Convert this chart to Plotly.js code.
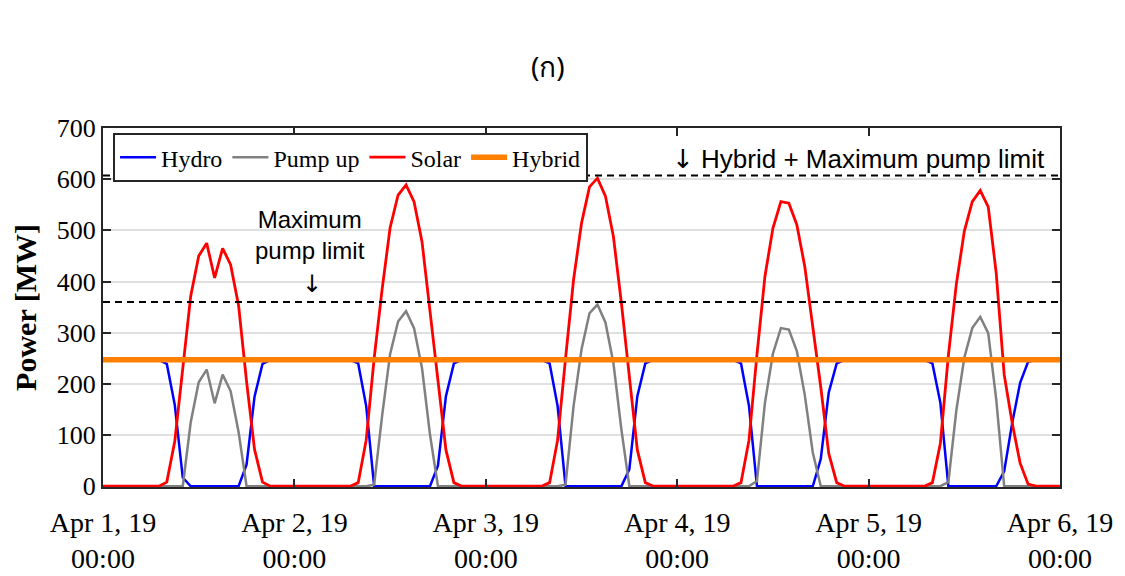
<!DOCTYPE html>
<html>
<head>
<meta charset="utf-8">
<script src="https://cdn.plot.ly/plotly-3.0.1.min.js"></script>
<style>html,body{margin:0;padding:0;background:#fff;}#chart{width:1125px;height:576px;}</style>
</head>
<body>
<div id="chart"></div>
<script>
// ---- data (hourly, Apr 1 2019 00:00 .. Apr 6 2019 00:00) ----
const startTime = '2019-04-01T00:00:00';
const dayTicks = ['2019-04-01 00:00','2019-04-02 00:00','2019-04-03 00:00','2019-04-04 00:00','2019-04-05 00:00','2019-04-06 00:00'];
const dayLabels = ['Apr 1, 19','Apr 2, 19','Apr 3, 19','Apr 4, 19','Apr 5, 19','Apr 6, 19'];
const timeLabels = ['00:00','00:00','00:00','00:00','00:00','00:00'];

const solar = [
  0,0,0,0,0,0,0,0, 8,88,230,372,450,475,407,465,433,353,205,72,8,0,0,0,
  0,0,0,0,0,0,0,0, 7,90,250,385,505,569,589,556,478,348,207,71,7,0,0,0,
  0,0,0,0,0,0,0,0, 7,90,250,403,514,585,602,567,488,358,214,71,7,0,0,0,
  0,0,0,0,0,0,0,0, 7,90,257,410,504,556,553,511,429,313,194,64,7,0,0,0,
  0,0,0,0,0,0,0,0, 7,84,255,395,498,556,578,546,417,218,124,45,4,0,0,0,
  0
];
const pumpUp = [
  0,0,0,0,0,0,0,0, 0,0,0,125,203,228,162,218,186,106,0,0,0,0,0,0,
  0,0,0,0,0,0,0,0, 0,0,3,138,258,322,342,309,231,101,0,0,0,0,0,0,
  0,0,0,0,0,0,0,0, 0,0,3,156,267,338,355,320,241,111,0,0,0,0,0,0,
  0,0,0,0,0,0,0,0, 0,0,10,163,259,309,306,264,178,66,0,0,0,0,0,0,
  0,0,0,0,0,0,0,0, 0,0,8,148,251,309,331,299,170,0,0,0,0,0,0,0,
  0
];
const hydro = [
  247,247,247,247,247,247,247,247, 239,159,17,0,0,0,0,0,0,0,42,175,239,247,247,247,
  247,247,247,247,247,247,247,247, 240,157,0,0,0,0,0,0,0,0,40,176,240,247,247,247,
  247,247,247,247,247,247,247,247, 240,157,0,0,0,0,0,0,0,0,33,176,240,247,247,247,
  247,247,247,247,247,247,247,247, 240,157,0,0,0,0,0,0,0,0,53,183,240,247,247,247,
  247,247,247,247,247,247,247,247, 240,163,0,0,0,0,0,0,0,29,123,202,243,247,247,247,
  247
];
const hybridTimes = ['2019-04-01 00:00','2019-04-06 00:00'];
const hybrid = [247, 247];
const pumpLimit = 360;
const hybridPlusPumpLimit = 607;

// hourly timestamps for the series
const times = [];
{
  const t0 = new Date(startTime + 'Z').getTime();
  for (let i = 0; i < solar.length; i++) {
    const d = new Date(t0 + i * 3600000);
    times.push(d.toISOString().slice(0,16).replace('T',' '));
  }
}

const serif = 'Liberation Serif, Times New Roman, serif';
const sans = 'Liberation Sans, Arial, sans-serif';
const arrowFont = 'DejaVu Sans, sans-serif';

const traces = [
  {x: times, y: hydro, name: 'Hydro', mode: 'lines', line: {color: '#0000ff', width: 2.5}},
  {x: times, y: pumpUp, name: 'Pump up', mode: 'lines', line: {color: '#808080', width: 2.5}},
  {x: times, y: solar, name: 'Solar', mode: 'lines', line: {color: '#ff0000', width: 2.8}},
  {x: hybridTimes, y: hybrid, name: 'Hybrid', mode: 'lines', line: {color: '#ff8000', width: 5.5}},
  {x: [dayTicks[0]], y: [null], xaxis: 'x2', showlegend: false, hoverinfo: 'skip', mode: 'lines'}
];

const xRange = [dayTicks[0], dayTicks[5]];

const layout = {
  width: 1125, height: 576,
  margin: {l: 103, r: 65, t: 128, b: 89, autoexpand: false},
  paper_bgcolor: '#ffffff', plot_bgcolor: '#ffffff',
  showlegend: true,
  title: {text: '(ก)', font: {family: 'Noto Sans, sans-serif', size: 28, color: '#000'}, x: 0.487, xanchor: 'center', y: 0.884, yanchor: 'middle'},
  legend: {
    orientation: 'h', x: 0.0105, y: 0.986, xanchor: 'left', yanchor: 'top',
    bgcolor: '#ffffff', bordercolor: '#262626', borderwidth: 2,
    font: {family: serif, size: 24, color: '#000'},
    itemwidth: 36,
    tracegroupgap: 0
  },
  xaxis: {
    type: 'date', range: xRange, tickmode: 'array', tickvals: dayTicks, ticktext: dayLabels,
    showgrid: false, zeroline: false,
    showline: true, linecolor: '#262626', linewidth: 2, mirror: 'ticks',
    ticks: 'inside', ticklen: 8, tickwidth: 2, tickcolor: '#262626',
    ticklabelstandoff: 9,
    tickfont: {family: serif, size: 28, color: '#000'},
    automargin: false
  },
  xaxis2: {
    type: 'date', range: xRange, overlaying: 'x', anchor: 'y', side: 'bottom',
    tickmode: 'array', tickvals: dayTicks, ticktext: timeLabels,
    showgrid: false, zeroline: false, showline: false, ticks: '',
    ticklabelstandoff: 52,
    tickfont: {family: serif, size: 28, color: '#000'},
    automargin: false
  },
  yaxis: {
    range: [-1.5, 700], tickmode: 'array', tickvals: [0,100,200,300,400,500,600,700],
    showgrid: true, gridcolor: '#e0e0e0', gridwidth: 2, zeroline: false,
    showline: true, linecolor: '#262626', linewidth: 2, mirror: 'ticks',
    ticks: 'inside', ticklen: 8, tickwidth: 2, tickcolor: '#262626',
    tickfont: {family: serif, size: 26, color: '#000'},
    title: {text: '<b>Power [MW]</b>', font: {family: serif, size: 30, color: '#000'}, standoff: 11},
    automargin: false
  },
  shapes: [
    {type: 'line', xref: 'paper', x0: 0, x1: 1, yref: 'y', y0: pumpLimit, y1: pumpLimit, line: {color: '#000', width: 2, dash: '7px,5px'}},
    {type: 'line', xref: 'paper', x0: 0, x1: 1, yref: 'y', y0: hybridPlusPumpLimit, y1: hybridPlusPumpLimit, line: {color: '#000', width: 2, dash: '7px,5px'}}
  ],
  annotations: [
    {text: 'Maximum<br>pump limit', xref: 'paper', yref: 'paper', x: 0.2163, y: 0.702, xanchor: 'center', yanchor: 'middle', showarrow: false, font: {family: sans, size: 24, color: '#000'}},
    {text: '↓', xref: 'paper', yref: 'y', x: 0.218, y: pumpLimit, xanchor: 'center', yanchor: 'bottom', yshift: 2, showarrow: false, font: {family: arrowFont, size: 24, color: '#000'}},
    {text: '<span style="font-family:DejaVu Sans">↓</span> Hybrid + Maximum pump limit', xref: 'paper', yref: 'y', x: 0.592, y: hybridPlusPumpLimit, xanchor: 'left', yanchor: 'bottom', showarrow: false, font: {family: sans, size: 26, color: '#000'}}
  ]
};

Plotly.newPlot('chart', traces, layout, {displayModeBar: false, staticPlot: true});
</script>
</body>
</html>
